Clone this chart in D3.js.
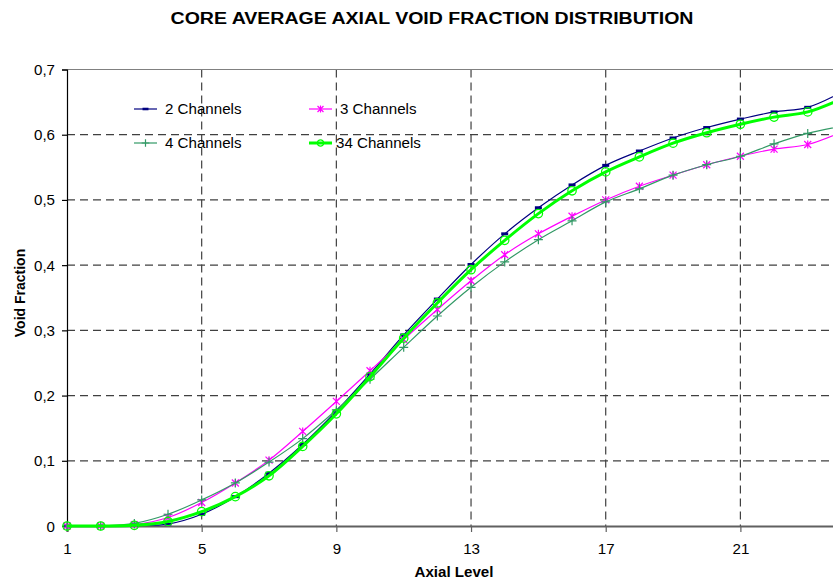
<!DOCTYPE html>
<html>
<head>
<meta charset="utf-8">
<script src="https://cdn.jsdelivr.net/npm/d3@7"></script>
<style>
html,body{margin:0;padding:0;background:#fff;overflow:hidden;}
svg{display:block;font-family:"Liberation Sans",Arial,sans-serif;}
</style>
</head>
<body>
<svg id="chart" width="833" height="580"></svg>
<script>
// ---- data ----
const levels = [1,2,3,4,5,6,7,8,9,10,11,12,13,14,15,16,17,18,19,20,21,22,23,24];
const xTicks = [1,5,9,13,17,21];
const yTicks = [0,0.1,0.2,0.3,0.4,0.5,0.6,0.7];
const ch2  = [0,0,0.001,0.003,0.018,0.045,0.081,0.125,0.176,0.233,0.293,0.348,0.401,0.448,0.488,0.523,0.553,0.575,0.595,0.611,0.624,0.635,0.642,0.665];
const ch3  = [0,0,0.002,0.013,0.036,0.066,0.101,0.145,0.191,0.238,0.286,0.332,0.376,0.416,0.448,0.475,0.500,0.521,0.538,0.554,0.567,0.578,0.585,0.604];
const ch4  = [0,0,0.004,0.018,0.040,0.066,0.098,0.134,0.178,0.225,0.274,0.322,0.366,0.405,0.439,0.468,0.497,0.517,0.538,0.554,0.567,0.586,0.602,0.613];
const ch34 = [0,0,0.001,0.007,0.022,0.045,0.077,0.122,0.172,0.229,0.288,0.342,0.393,0.438,0.479,0.514,0.543,0.566,0.587,0.603,0.616,0.627,0.635,0.655];
const seriesNames = ["2 Channels","3 Channels","4 Channels","34 Channels"];

const series = [
  {name:seriesNames[0], values:ch2,  color:"#000080", width:1.2, marker:"dash"},
  {name:seriesNames[1], values:ch3,  color:"#FF00FF", width:1.2, marker:"star"},
  {name:seriesNames[2], values:ch4,  color:"#339966", width:1.2, marker:"plus"},
  {name:seriesNames[3], values:ch34, color:"#00FF00", width:3,   marker:"circle"}
];

const svg = d3.select("#chart");
const L = 67, R = 841.4, T = 69.5, B = 526;
const x = d3.scaleLinear().domain([1,24]).range([L,R]);
const y = d3.scaleLinear().domain([0,0.7]).range([B,T]);
const fmt = d => d3.format(".1f")(d).replace(".",",").replace(/^0,0$/,"0");
const SX = 1.08;

// clip
svg.append("clipPath").attr("id","clip").append("rect")
  .attr("x",L-6).attr("y",T-6).attr("width",R-L+12).attr("height",B-T+12);

// gridlines
const grid = svg.append("g");
grid.selectAll("line.h").data(yTicks.filter(v=>v>0 && v<0.7)).join("line")
  .attr("x1",L).attr("x2",R).attr("y1",d=>y(d)).attr("y2",d=>y(d))
  .attr("stroke","#404040").attr("stroke-width",1.2).attr("stroke-dasharray","8,5");
grid.selectAll("line.v").data(xTicks.filter(v=>v>1)).join("line")
  .attr("x1",d=>x(d)).attr("x2",d=>x(d)).attr("y1",T).attr("y2",B)
  .attr("stroke","#404040").attr("stroke-width",1.2).attr("stroke-dasharray","8,5");
// top frame
svg.append("line").attr("x1",L).attr("x2",R).attr("y1",y(0.7)).attr("y2",y(0.7))
  .attr("stroke","#808080").attr("stroke-width",1.2);

// x axis
const xAxis = d3.axisBottom(x).tickValues(xTicks).tickSize(6).tickFormat(d3.format("d"));
const gx = svg.append("g").attr("transform",`translate(0,${B})`).call(xAxis);
gx.select(".domain").attr("stroke","#606060").attr("stroke-width",2.2);
gx.selectAll(".tick line").attr("stroke","#606060").attr("stroke-width",1.2);
gx.selectAll(".tick text").attr("font-size",14).attr("fill","#000")
  .attr("font-family","Liberation Sans, Arial, sans-serif")
  .attr("y",0).attr("dy",0)
  .attr("transform",`translate(0,27.5) scale(${SX},1)`);

// y axis
const yAxis = d3.axisLeft(y).tickValues(yTicks).tickSize(5).tickFormat(fmt);
const gy = svg.append("g").attr("transform",`translate(${L},0)`).call(yAxis);
gy.select(".domain").attr("stroke","#000").attr("stroke-width",1.2);
gy.selectAll(".tick line").attr("stroke","#000").attr("stroke-width",1.2);
gy.selectAll(".tick text").attr("font-size",14).attr("fill","#000")
  .attr("font-family","Liberation Sans, Arial, sans-serif")
  .attr("x",0).attr("dy",0).attr("text-anchor","end")
  .attr("transform",`translate(-12,5) scale(${SX},1)`);

// markers
function drawMarker(g, type, color, size){
  const s = size || 1;
  if(type==="dash"){
    g.append("rect").attr("x",-3.5*s).attr("y",-1.5*s).attr("width",7*s).attr("height",3*s).attr("fill",color);
  } else if(type==="star"){
    g.append("path").attr("d",`M${-3.5*s},${-3.5*s}L${3.5*s},${3.5*s}M${-3.5*s},${3.5*s}L${3.5*s},${-3.5*s}M0,${-4*s}L0,${4*s}`)
      .attr("stroke",color).attr("stroke-width",1.2).attr("fill","none");
  } else if(type==="plus"){
    g.append("path").attr("d",`M${-4.5*s},0L${4.5*s},0M0,${-4.5*s}L0,${4.5*s}`)
      .attr("stroke",color).attr("stroke-width",1.2).attr("fill","none");
  } else if(type==="circle"){
    g.append("circle").attr("r",4.2*s).attr("fill","none").attr("stroke",color).attr("stroke-width",1.3);
  }
}

const plot = svg.append("g").attr("clip-path","url(#clip)");
const line = d3.line().curve(d3.curveCatmullRom.alpha(0.5)).x((d,i)=>x(levels[i])).y(d=>y(d));
series.forEach(s=>{
  const g = plot.append("g");
  g.append("path").attr("d",line(s.values)).attr("fill","none")
    .attr("stroke",s.color).attr("stroke-width",s.width).attr("stroke-linejoin","round");
  s.values.forEach((v,i)=>{
    const mg = g.append("g").attr("transform",`translate(${x(levels[i])},${y(v)})`);
    drawMarker(mg, s.marker, s.color, 1);
  });
});

// legend
const legPos = [[134,109],[309,109],[134,143],[309,143]];
series.forEach((s,i)=>{
  const [lx,ly] = legPos[i];
  const g = svg.append("g").attr("transform",`translate(${lx},${ly})`);
  g.append("line").attr("x1",0).attr("x2",23).attr("y1",0).attr("y2",0)
    .attr("stroke",s.color).attr("stroke-width",s.width);
  const mg = g.append("g").attr("transform","translate(11.5,0)");
  drawMarker(mg, s.marker, s.color, s.marker==="circle"?0.75:0.85);
  g.append("text").attr("transform",`translate(${i===3?27:31},5) scale(${SX},1)`)
    .attr("font-size",14).attr("fill","#000").text(s.name);
});

// titles
svg.append("text").attr("transform",`translate(432,24.3) scale(1.15,1)`)
  .attr("text-anchor","middle").attr("font-size",17).attr("font-weight","bold").attr("fill","#000")
  .text("CORE AVERAGE AXIAL VOID FRACTION DISTRIBUTION");
svg.append("text").attr("transform",`translate(454,576.5) scale(${SX},1)`)
  .attr("text-anchor","middle").attr("font-size",14).attr("font-weight","bold").attr("fill","#000")
  .text("Axial Level");
svg.append("text").attr("transform",`translate(24.5,293) scale(${SX},1) rotate(-90)`)
  .attr("text-anchor","middle").attr("font-size",14).attr("font-weight","bold").attr("fill","#000")
  .text("Void Fraction");
</script>
</body>
</html>
